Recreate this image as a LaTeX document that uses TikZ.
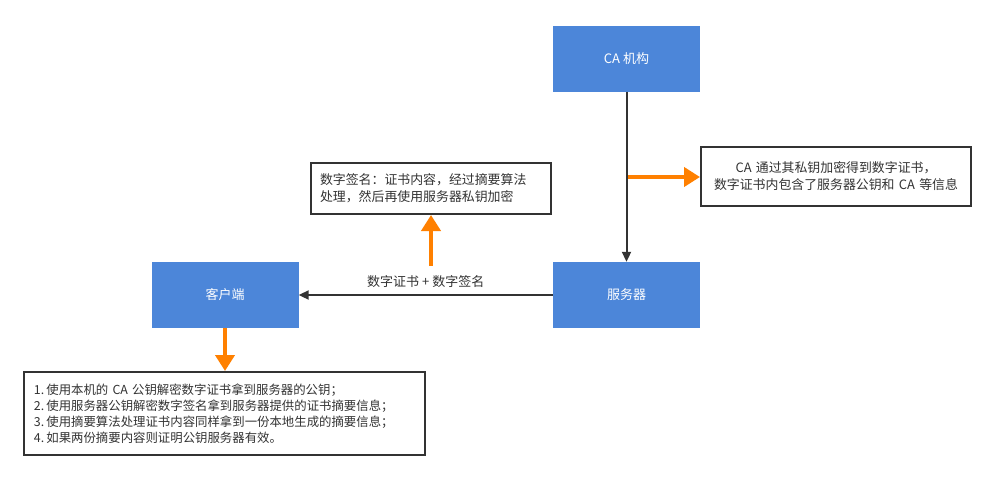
\documentclass[tikz,border=0pt]{standalone}
\usepackage{fontspec}
\setmainfont{Noto Sans CJK SC}
\usetikzlibrary{arrows.meta}
\definecolor{boxblue}{HTML}{4C86D9}
\definecolor{arrorange}{HTML}{FF8000}
\definecolor{darkline}{HTML}{333333}
\begin{document}
\begin{tikzpicture}[x=1pt,y=-1pt,
  bluebox/.style={fill=boxblue,draw=none,minimum width=147pt,minimum height=66pt,inner sep=0pt,text=white,font=\fontsize{13}{15}\selectfont},
  notebox/.style={draw=darkline,line width=2pt,fill=white,inner sep=0pt,font=\fontsize{12.9}{17}\selectfont,text=darkline},
  conn/.style={draw=darkline,line width=2pt,-{Triangle[length=10pt,width=9pt]}},
  orangearrow/.style={draw=arrorange,line width=4.5pt,-{Triangle[length=16pt,width=19pt]}}]
\useasboundingbox (0,0) rectangle (996,480);
\fill[white] (0,0) rectangle (996,480);
\node[bluebox] (ca) at (626.5,58.5) {CA 机构};
\node[bluebox] (server) at (626.5,295) {服务器};
\node[bluebox] (client) at (225,295) {客户端};
\node[notebox,minimum width=240pt,minimum height=51pt,text width=222pt,align=left] (signote) at (431,188.5) {数字签名：证书内容，经过摘要算法\\处理，然后再使用服务器私钥加密};
\node[notebox,minimum width=270pt,minimum height=59pt,text width=264pt,align=center] (canote) at (836,176.5) {CA 通过其私钥加密得到数字证书，\\数字证书内包含了服务器公钥和 CA 等信息};
\node[notebox,minimum width=401pt,minimum height=83pt,text width=381pt,align=left,font=\fontsize{12.4}{16}\selectfont] (bnote) at (224.5,413.5) {1.\,使用本机的 CA 公钥解密数字证书拿到服务器的公钥；\\2.\,使用服务器公钥解密数字签名拿到服务器提供的证书摘要信息；\\3.\,使用摘要算法处理证书内容同样拿到一份本地生成的摘要信息；\\4.\,如果两份摘要内容则证明公钥服务器有效。};
\draw[conn] (ca.south) -- (server.north);
\draw[conn] (server.west) -- node[above=3pt,font=\fontsize{13}{15}\selectfont,text=darkline] {数字证书 + 数字签名} (client.east);
\coordinate (o1) at (628,177);
\coordinate (o2) at (431,266);
\draw[orangearrow] (o1) -- (canote.west |- o1);
\draw[orangearrow] (o2) -- (signote.south);
\draw[orangearrow] (client.south) -- (client.south |- bnote.north);
\end{tikzpicture}
\end{document}
